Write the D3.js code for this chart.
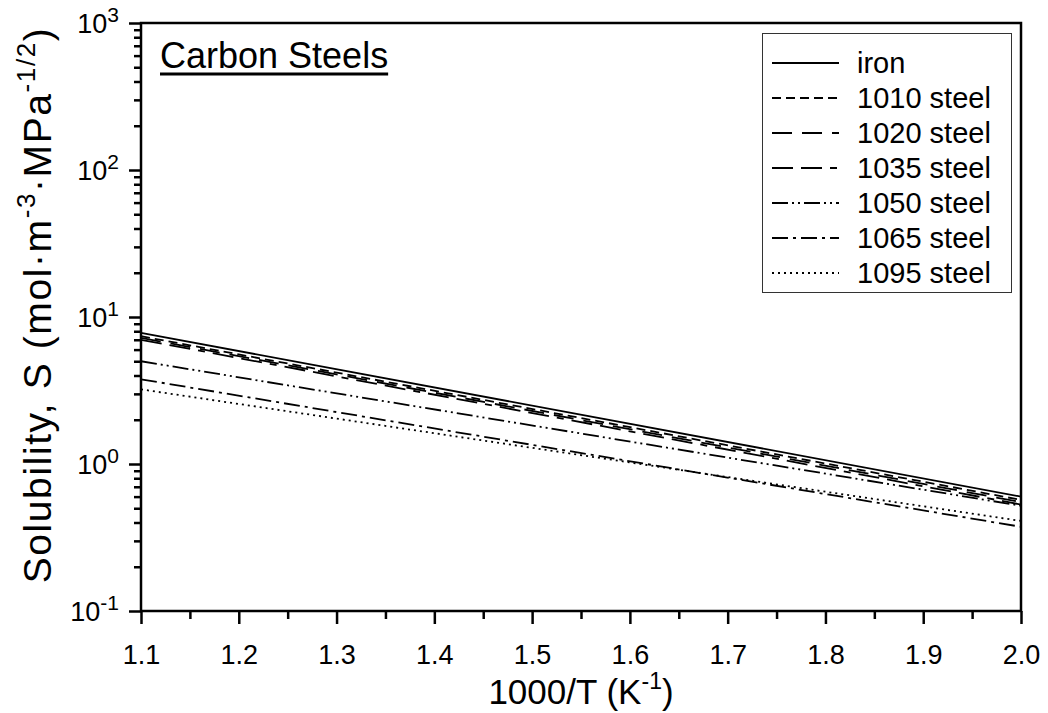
<!DOCTYPE html>
<html><head><meta charset="utf-8">
<script src="https://cdn.jsdelivr.net/npm/d3@7"></script>
<style>
body{margin:0;background:#fff;}
svg{display:block;font-family:"Liberation Sans",Arial,sans-serif;}
</style></head>
<body><svg id="c" width="1048" height="713"></svg>
<script>
// ---- data ----
const seriesNames = ["iron","1010 steel","1020 steel","1035 steel","1050 steel","1065 steel","1095 steel"];
const invT = [1.1, 2.0];               // 1000/T (K^-1) at line ends
const ironS   = [7.8, 0.60];
const s1010   = [7.4, 0.57];
const s1020   = [7.2, 0.55];
const s1035   = [7.0, 0.53];
const s1050   = [5.0, 0.52];
const s1065   = [3.77, 0.374];
const s1095   = [3.22, 0.41];
const seriesValues = [ironS, s1010, s1020, s1035, s1050, s1065, s1095];
const xTicks = [1.1,1.2,1.3,1.4,1.5,1.6,1.7,1.8,1.9,2.0];
const yExps = [-1,0,1,2,3];

// ---- styles ----
const dashes = ["none","9,5","20,10","21,8,21,8,7,8","16,4,2,4,2,4","16,5,3,5","2,4"];

const svg = d3.select("#c");
const X0=141, X1=1021, Y0=23, Y1=611;
const x = d3.scaleLinear().domain([1.1,2.0]).range([X0,X1]);
const y = d3.scaleLog().domain([0.1,1000]).range([Y1,Y0]);

// lines
const line = d3.line().x(d=>x(d[0])).y(d=>y(d[1]));
seriesValues.forEach((vals,i)=>{
  svg.append("path").datum(invT.map((t,k)=>[t,vals[k]]))
    .attr("d",line).attr("fill","none").attr("stroke","#000")
    .attr("stroke-width",1.8).attr("stroke-dasharray",dashes[i]);
});

// x axis
const xMinor = d3.range(1.1,2.0001,0.05).filter(v=>Math.abs(Math.round(v*10)-v*10)>0.01);
const gx = svg.append("g").attr("transform",`translate(0,${Y1})`);
gx.call(d3.axisBottom(x).tickValues(xTicks).tickSize(13).tickSizeOuter(0).tickFormat(d3.format(".1f")));
gx.selectAll("text").attr("font-size",27).attr("font-family","Liberation Sans, Arial").attr("dy",0).attr("y",53).attr("fill","#000");
const gx2 = svg.append("g").attr("transform",`translate(0,${Y1})`);
gx2.call(d3.axisBottom(x).tickValues(xMinor).tickSize(8).tickSizeOuter(0).tickFormat(""));
[gx,gx2].forEach(g=>{g.select(".domain").remove();g.selectAll("line").attr("stroke-width",2.5).attr("stroke","#000");});

// y axis
const yMajor = yExps.map(e=>Math.pow(10,e));
const yMinor = [];
for(let e=-1;e<3;e++) for(let m=2;m<=9;m++) yMinor.push(m*Math.pow(10,e));
const gy = svg.append("g").attr("transform",`translate(${X0},0)`);
gy.call(d3.axisLeft(y).tickValues(yMajor).tickSize(12).tickSizeOuter(0).tickFormat(""));
const gy2 = svg.append("g").attr("transform",`translate(${X0},0)`);
gy2.call(d3.axisLeft(y).tickValues(yMinor).tickSize(7).tickSizeOuter(0).tickFormat(""));
[gy,gy2].forEach(g=>{g.select(".domain").remove();g.selectAll("line").attr("stroke-width",2.5).attr("stroke","#000");});
yExps.forEach(e=>{
  const t = svg.append("text").attr("x",119).attr("y",y(Math.pow(10,e))+10)
     .attr("text-anchor","end").attr("font-size",27).attr("fill","#000");
  t.append("tspan").text("10");
  t.append("tspan").attr("font-size",21).attr("dy",-11).text(String(e));
});

// frame
svg.append("rect").attr("x",X0).attr("y",Y0).attr("width",X1-X0).attr("height",Y1-Y0)
  .attr("fill","none").attr("stroke","#000").attr("stroke-width",2.5);

// axis titles
const xt = svg.append("text").attr("x",(X0+X1)/2).attr("y",704).attr("text-anchor","middle").attr("font-size",35).attr("fill","#000");
xt.append("tspan").text("1000/T (K");
xt.append("tspan").attr("font-size",23).attr("dy",-15).text("-1");
xt.append("tspan").attr("dy",15).text(")");

const yt = svg.append("text").attr("transform","translate(51,305) rotate(-90)").attr("text-anchor","middle")
  .attr("font-size",39).attr("letter-spacing",1.6).attr("fill","#000");
yt.append("tspan").text("Solubility, S  (mol\u00b7m");
yt.append("tspan").attr("font-size",26).attr("dy",-16).text("-3");
yt.append("tspan").attr("dy",16).text("\u00b7MPa");
yt.append("tspan").attr("font-size",26).attr("dy",-16).text("-1/2");
yt.append("tspan").attr("dy",16).text(")");

// title
const tt = svg.append("text").attr("x",160).attr("y",68).attr("font-size",36).attr("fill","#000").text("Carbon Steels");
const tw = tt.node().getComputedTextLength();
svg.append("line").attr("x1",160).attr("x2",160+tw).attr("y1",74).attr("y2",74).attr("stroke","#000").attr("stroke-width",3);

// legend
const LX=762, LY=33, LW=249, LH=259;
svg.append("rect").attr("x",LX+0.5).attr("y",LY+0.5).attr("width",LW).attr("height",LH)
  .attr("fill","#fff").attr("stroke","#333").attr("stroke-width",1);
seriesNames.forEach((n,i)=>{
  const cy = 63 + i*35;
  svg.append("line").attr("x1",772).attr("x2",839).attr("y1",cy).attr("y2",cy)
    .attr("stroke","#000").attr("stroke-width",1.8).attr("stroke-dasharray",dashes[i]);
  svg.append("text").attr("x",857).attr("y",cy+10).attr("font-size",29).attr("fill","#000").text(n);
});
</script></body></html>
